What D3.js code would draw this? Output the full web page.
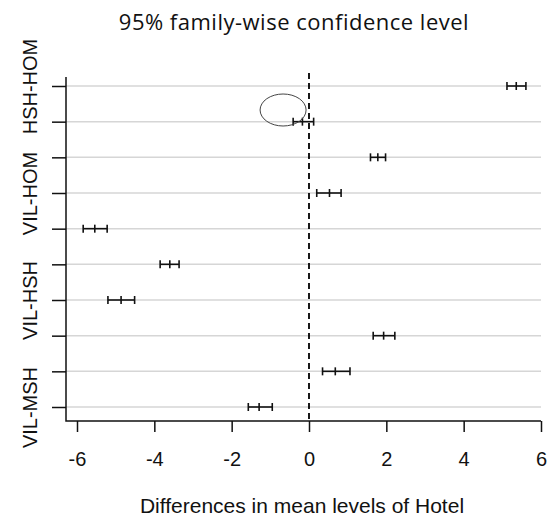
<!DOCTYPE html>
<html>
<head>
<meta charset="utf-8">
<script src="https://cdn.jsdelivr.net/npm/d3@7"></script>
<style>
  html, body { margin: 0; padding: 0; background: #fff; }
  svg { display: block; }
</style>
</head>
<body>
<svg id="chart" width="551" height="518"></svg>
<script>
// Tukey HSD pairwise comparisons of mean levels by hotel type
const comparisons = ["HSH-HOM", "MOT-HOM", "MSH-HOM", "VIL-HOM", "MOT-HSH",
                     "MSH-HSH", "VIL-HSH", "MSH-MOT", "VIL-MOT", "VIL-MSH"];
const shownLabels = ["HSH-HOM", "VIL-HOM", "VIL-HSH", "VIL-MSH"];
const diffs = [5.36, -0.17, 1.78, 0.53, -5.54, -3.60, -4.86, 1.93, 0.68, -1.29];
const lower = [5.12, -0.41, 1.59, 0.20, -5.84, -3.85, -5.20, 1.66, 0.35, -1.57];
const upper = [5.61, 0.12, 1.98, 0.83, -5.22, -3.36, -4.51, 2.22, 1.06, -0.95];
const xTicks = [-6, -4, -2, 0, 2, 4, 6];

const svg = d3.select("#chart");
const axisFont = "'Liberation Sans', Arial, sans-serif";

const x = d3.scaleLinear().domain([-6, 6]).range([77, 541]);
const y = d3.scalePoint().domain(comparisons).range([86, 407]);

const plotLeft = 66, plotBottom = 421, plotTop = 73, gridRight = 541;

// horizontal guide lines, one per comparison
svg.append("g").selectAll("line").data(comparisons).join("line")
  .attr("x1", plotLeft).attr("x2", gridRight)
  .attr("y1", d => y(d)).attr("y2", d => y(d))
  .attr("stroke", "#d6d6d6").attr("stroke-width", 1.5);

// zero reference line
svg.append("line")
  .attr("x1", x(0)).attr("x2", x(0))
  .attr("y1", plotTop).attr("y2", plotBottom)
  .attr("stroke", "#000").attr("stroke-width", 1.8)
  .attr("stroke-dasharray", "6,4");

// confidence intervals
const rows = comparisons.map((c, i) => ({ c, d: diffs[i], lo: lower[i], hi: upper[i] }));
const ci = svg.append("g").attr("stroke", "#111").attr("stroke-width", 1.6).attr("fill", "none");
ci.selectAll("line.span").data(rows).join("line").attr("class", "span")
  .attr("x1", r => x(r.lo)).attr("x2", r => x(r.hi))
  .attr("y1", r => y(r.c)).attr("y2", r => y(r.c));
["lo", "d", "hi"].forEach(k => {
  ci.selectAll("line.cap-" + k).data(rows).join("line").attr("class", "cap-" + k)
    .attr("x1", r => x(r[k])).attr("x2", r => x(r[k]))
    .attr("y1", r => y(r.c) - 4).attr("y2", r => y(r.c) + 4);
});

// x axis
const xAxis = d3.axisBottom(x).tickValues(xTicks).tickSize(11).tickPadding(20)
  .tickFormat(d => d < 0 ? "-" + Math.abs(d) : d);
const gx = svg.append("g").attr("transform", `translate(0,${plotBottom})`).call(xAxis);
gx.select(".domain").remove();
gx.selectAll(".tick line").attr("stroke", "#111").attr("stroke-width", 1.5);
gx.selectAll(".tick text").attr("font-family", axisFont).attr("font-size", 20).attr("fill", "#111");

// y axis
const yAxis = d3.axisLeft(y).tickSize(14).tickPadding(14)
  .tickFormat(d => shownLabels.includes(d) ? d : "");
const gy = svg.append("g").attr("transform", `translate(${plotLeft},0)`).call(yAxis);
gy.select(".domain").remove();
gy.selectAll(".tick line").attr("stroke", "#111").attr("stroke-width", 1.5);
gy.selectAll(".tick text")
  .attr("font-family", axisFont).attr("font-size", 20).attr("fill", "#111")
  .attr("text-anchor", "middle").attr("dy", null).attr("x", null).attr("y", 0)
  .attr("transform", "translate(-29,0) rotate(-90)");

// L-shaped frame
svg.append("path")
  .attr("d", `M${plotLeft},${plotTop + 4}V${plotBottom}H${gridRight}`)
  .attr("fill", "none").attr("stroke", "#111").attr("stroke-width", 1.5);

// highlight ring around the comparison that crosses zero
svg.append("ellipse")
  .attr("cx", x(-0.67)).attr("cy", 110).attr("rx", 23).attr("ry", 16)
  .attr("fill", "none").attr("stroke", "#444").attr("stroke-width", 1);

// titles
svg.append("text").attr("x", 294).attr("y", 30).attr("text-anchor", "middle")
  .attr("font-family", "'Open Sans', sans-serif").attr("font-size", 22)
  .attr("letter-spacing", 0.5).attr("fill", "#111")
  .text("95% family-wise confidence level");
svg.append("text").attr("x", 302).attr("y", 513).attr("text-anchor", "middle")
  .attr("font-family", axisFont).attr("font-size", 21).attr("fill", "#111")
  .text("Differences in mean levels of Hotel");
</script>
</body>
</html>
